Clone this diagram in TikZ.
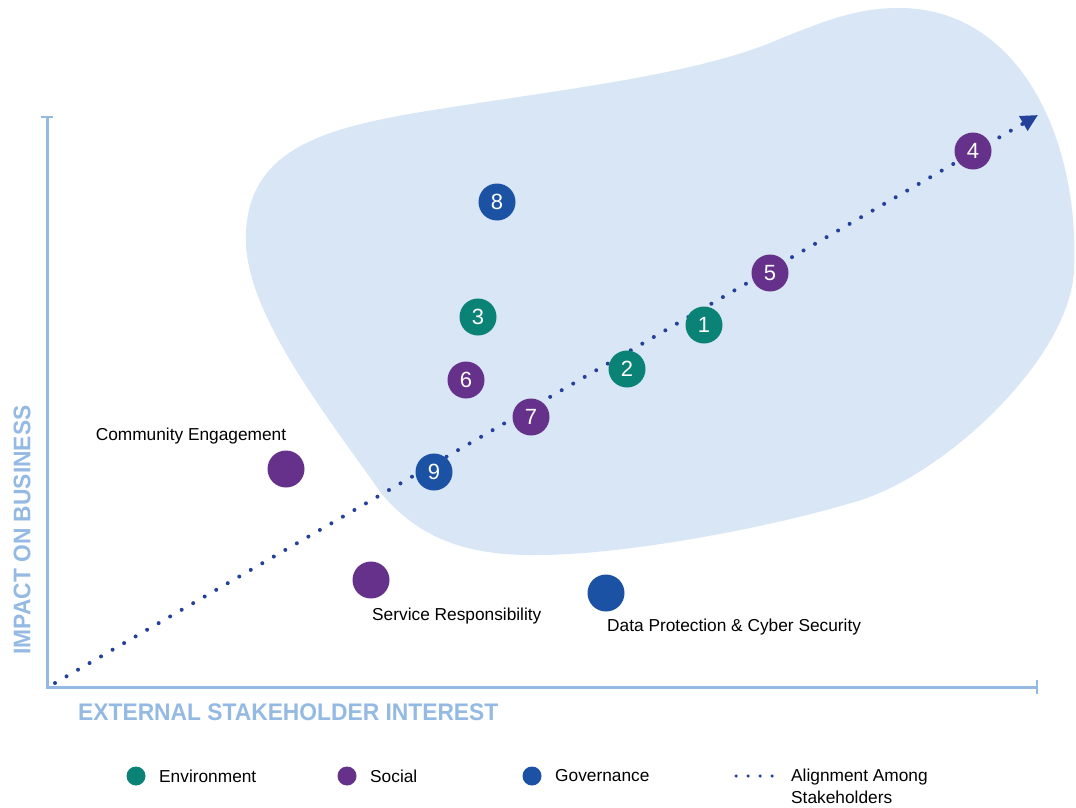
\documentclass[tikz,border=0pt]{standalone}
\usepackage{fontspec}
\setmainfont{Liberation Sans}
\usepackage{tikz}
\usetikzlibrary{arrows.meta}
\definecolor{envcol}{HTML}{0B8276}
\definecolor{soccol}{HTML}{65318A}
\definecolor{govcol}{HTML}{1C52A3}
\definecolor{dotcol}{HTML}{23409A}
\definecolor{axiscol}{HTML}{94B9E3}
\definecolor{blobcol}{HTML}{D8E6F5}
\tikzstyle{issue}=[circle,minimum size=37pt,inner sep=0pt,text=white,font=\fontsize{22}{22}\selectfont]
\tikzstyle{key}=[circle,minimum size=19pt,inner sep=0pt]
\tikzstyle{lbl}=[font=\fontsize{17.3}{22}\selectfont,text=black,inner sep=0pt]
\tikzstyle{axislbl}=[font=\fontsize{24}{24}\selectfont\bfseries,text=axiscol,inner sep=0pt]
\tikzstyle{alignline}=[dotcol,line width=4pt,line cap=round,dash pattern=on 0pt off 13.3pt]

\begin{document}
\begin{tikzpicture}[x=1pt,y=-1pt]
  \useasboundingbox (0,0) rectangle (1076,808);
  \fill[blobcol] (246,245) .. controls (242,145) and (330,126) .. (446,108)
    .. controls (560,90) and (690,75) .. (770,43)
    .. controls (830,18) and (860,8) .. (899,8)
    .. controls (1020,8) and (1080,140) .. (1074,270)
    .. controls (1070,360) and (940,480) .. (851,503)
    .. controls (760,530) and (620,555) .. (538,555)
    .. controls (470,556) and (420,540) .. (381,493)
    .. controls (330,420) and (250,320) .. (246,245) -- cycle;
  \coordinate (origin) at (47,687);
  \coordinate (ytop) at (47,117);
  \coordinate (xend) at (1037,687);
  \draw[axiscol,line width=3pt] (ytop) -- (origin) -- (xend);
  \draw[axiscol,line width=2pt] ([xshift=-6pt]ytop) -- ([xshift=6pt]ytop);
  \draw[axiscol,line width=2pt] ([yshift=-7pt]xend) -- ([yshift=7pt]xend);
  \node[axislbl,anchor=west] (xlabel) at (78,712) {\scalebox{0.95}[1]{EXTERNAL STAKEHOLDER INTEREST}};
  \node[axislbl,rotate=90] (ylabel) at (22,530) {\scalebox{0.95}[1]{IMPACT ON BUSINESS}};
  \coordinate (dstart) at (55,683);
  \coordinate (dend) at (1038,115);
  \draw[alignline,-{Triangle[length=17pt,width=16pt]}] (dstart) -- (dend);
  \node[issue,fill=soccol] (i4) at (973,151) {4};
  \node[issue,fill=soccol] (i5) at (770,273) {5};
  \node[issue,fill=envcol] (i1) at (704,325) {1};
  \node[issue,fill=envcol] (i2) at (627,369) {2};
  \node[issue,fill=soccol] (i7) at (531,417) {7};
  \node[issue,fill=govcol] (i9) at (434,472) {9};
  \node[issue,fill=govcol] (i8) at (497,202) {8};
  \node[issue,fill=envcol] (i3) at (478,317) {3};
  \node[issue,fill=soccol] (i6) at (466,380) {6};
  \node[issue,fill=soccol] (comm) at (286,469) {};
  \node[issue,fill=soccol] (serv) at (371,580) {};
  \node[issue,fill=govcol] (data) at (606,593) {};
  \node[lbl] (commlbl) at (191,436) {Community Engagement};
  \node[lbl,anchor=west] (servlbl) at (372,616) {Service Responsibility};
  \node[lbl,anchor=west] (datalbl) at (607,627) {Data Protection \& Cyber Security};
  \node[key,fill=envcol] (kenv) at (136,776) {};
  \node[lbl,anchor=west] (kenvlbl) at (159,776) {Environment};
  \node[key,fill=soccol] (ksoc) at (347,776) {};
  \node[lbl,anchor=west] (ksoclbl) at (370,776) {Social};
  \node[key,fill=govcol] (kgov) at (532,776) {};
  \node[lbl,anchor=west] (kgovlbl) at (555,776) {Governance};
  \coordinate (kal1) at (736,776);
  \coordinate (kal2) at (773,776);
  \draw[alignline,line width=3.5pt,dash pattern=on 0pt off 12pt] (kal1) -- (kal2);
  \node[lbl,anchor=north west,align=left] (kallbl) at (791,769) {Alignment Among\\Stakeholders};
\end{tikzpicture}
\end{document}
